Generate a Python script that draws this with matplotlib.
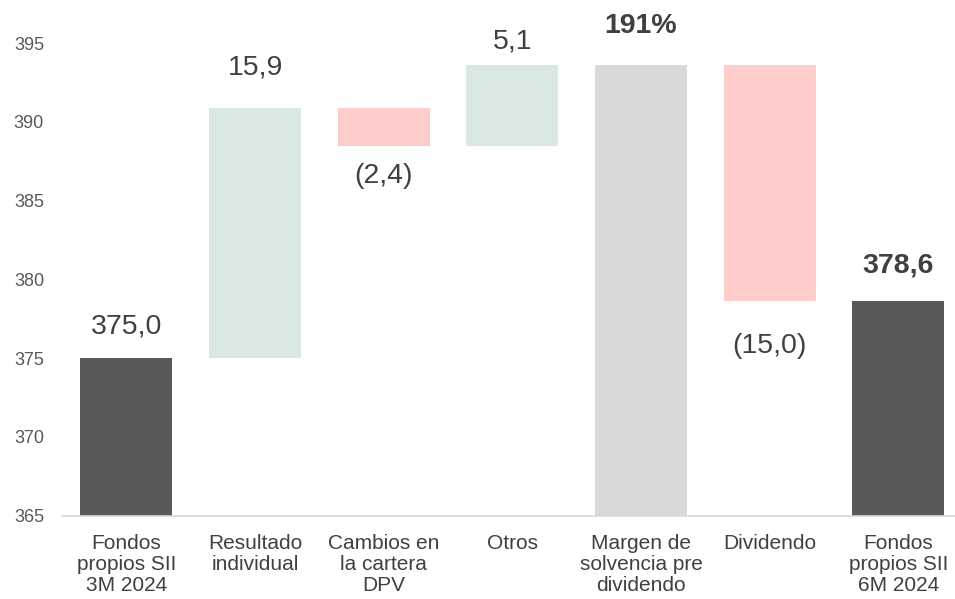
import matplotlib
matplotlib.use("Agg")
import matplotlib.pyplot as plt

plt.rcParams['font.family'] = ['Liberation Sans', 'DejaVu Sans']

categories = ["Fondos\npropios SII\n3M 2024", "Resultado\nindividual", "Cambios en\nla cartera\nDPV",
              "Otros", "Margen de\nsolvencia pre\ndividendo", "Dividendo", "Fondos\npropios SII\n6M 2024"]
changes = [375.0, 15.9, -2.4, 5.1, None, -15.0, None]
labels = ["375,0", "15,9", "(2,4)", "5,1", "191%", "(15,0)", "378,6"]
kinds = ["total", "delta", "delta", "delta", "margin", "delta", "total"]

base_y = 365
DARK = "#595959"
GREEN = "#d9e8e5"
PINK = "#ffcccc"
GREY = "#d9d9d9"
TEXT = "#404040"

# label baseline offsets (points) from bar top / bar bottom
label_offsets = [18, 24, -27, 12, 23, -37, 21]

# compute waterfall bottoms/tops
bottoms, tops = [], []
level = 0.0
for k, c in zip(kinds, changes):
    if k == "total" and c is not None:
        level = c
        bottoms.append(base_y); tops.append(level)
    elif k in ("total", "margin"):
        bottoms.append(base_y); tops.append(level)
    else:
        new = level + c
        bottoms.append(min(level, new)); tops.append(max(level, new))
        level = new

colors = []
for k, c in zip(kinds, changes):
    if k == "total":
        colors.append(DARK)
    elif k == "margin":
        colors.append(GREY)
    else:
        colors.append(GREEN if c > 0 else PINK)

fig = plt.figure(figsize=(9.55, 5.99), dpi=100)
ax = fig.add_axes([0.065, 0.139, 0.935, 0.789])

x = range(len(categories))
heights = [t - b for t, b in zip(tops, bottoms)]
ax.bar(x, heights, bottom=bottoms, width=0.715, color=colors, zorder=2)

for i, (k, c) in enumerate(zip(kinds, changes)):
    bold = i in (4, 6)
    y = bottoms[i] if (k == "delta" and c < 0) else tops[i]
    ax.annotate(labels[i], (i, y), xytext=(0, label_offsets[i]), textcoords="offset points",
                ha="center", va="baseline", fontsize=20.5, color=TEXT,
                fontweight="bold" if bold else "normal")

ax.set_ylim(365, 395)
ax.set_xlim(-0.5, 6.44)
ax.set_yticks(range(365, 396, 5))
ax.set_xticks(list(x))
ax.set_xticklabels(categories, fontsize=15, color=TEXT, linespacing=1.15)
ax.tick_params(axis="y", length=0, labelsize=13, labelcolor=DARK, pad=13)
ax.tick_params(axis="x", length=0, pad=13)
for side in ("top", "right", "left"):
    ax.spines[side].set_visible(False)
ax.spines["bottom"].set_color(GREY)
ax.spines["bottom"].set_linewidth(1.2)

fig.savefig("out.png", dpi=100)
